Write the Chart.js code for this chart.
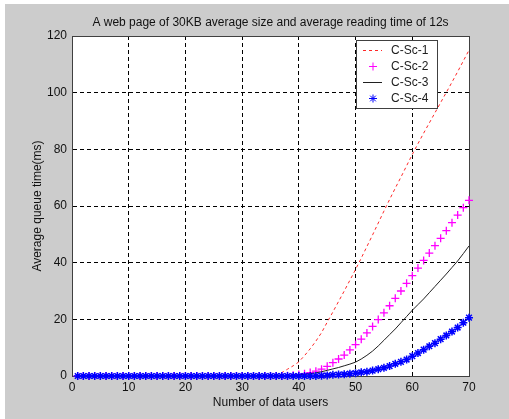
<!DOCTYPE html>
<html>
<head>
<meta charset="utf-8">
<script src="https://cdn.jsdelivr.net/npm/chart.js@4/dist/chart.umd.min.js"></script>
<style>
  html, body { margin: 0; padding: 0; background: #fff; }
  canvas { display: block; }
</style>
</head>
<body>
<canvas id="queueChart" width="509" height="419"></canvas>
<script>
// Number of data users (x axis)
const users = [1, 2, 3, 4, 5, 6, 7, 8, 9, 10, 11, 12, 13, 14, 15, 16, 17, 18, 19, 20,
  21, 22, 23, 24, 25, 26, 27, 28, 29, 30, 31, 32, 33, 34, 35, 36, 37, 38, 39, 40,
  41, 42, 43, 44, 45, 46, 47, 48, 49, 50, 51, 52, 53, 54, 55, 56, 57, 58, 59, 60,
  61, 62, 63, 64, 65, 66, 67, 68, 69, 70];

// Average queue time (ms) per scheme
const cSc1 = [0, 0, 0, 0, 0, 0, 0, 0, 0, 0, 0, 0, 0, 0, 0, 0, 0, 0, 0, 0,
  0, 0, 0, 0, 0, 0, 0, 0, 0, 0, 0, 0, 0, 0, 0, 0.3, 1.2, 2.4, 3.6, 5.0,
  7.2, 9.6, 12.3, 15.3, 19.0, 22.6, 26.3, 30.0, 33.8, 37.6, 41.6, 45.7, 49.8, 54.0, 58.2, 62.3, 66.3, 70.2, 74.2, 78.2,
  82.0, 85.7, 89.3, 92.9, 96.5, 100.1, 103.7, 107.4, 111.2, 115.0];
const cSc2 = [0, 0, 0, 0, 0, 0, 0, 0, 0, 0, 0, 0, 0, 0, 0, 0, 0, 0, 0, 0,
  0, 0, 0, 0, 0, 0, 0, 0, 0, 0, 0, 0, 0, 0, 0, 0, 0, 0.1, 0.3, 0.5,
  0.8, 1.2, 1.7, 2.4, 3.4, 4.7, 6.0, 7.4, 9.2, 11.1, 13.0, 15.2, 17.5, 19.9, 22.3, 24.8, 27.4, 30.0, 32.7, 35.4,
  38.1, 40.8, 43.4, 46.0, 48.6, 51.3, 54.1, 56.8, 59.4, 62.0];
const cSc3 = [0, 0, 0, 0, 0, 0, 0, 0, 0, 0, 0, 0, 0, 0, 0, 0, 0, 0, 0, 0,
  0, 0, 0, 0, 0, 0, 0, 0, 0, 0, 0, 0, 0, 0, 0, 0, 0, 0, 0.2, 0.4,
  0.6, 0.8, 1.1, 1.5, 2.0, 2.5, 3.0, 3.6, 4.2, 4.9, 6.0, 7.3, 8.8, 10.6, 12.6, 14.6, 16.6, 18.8, 21.0, 23.2,
  25.2, 27.2, 29.4, 31.6, 33.8, 36.0, 38.3, 40.6, 43.2, 45.9];
const cSc4 = [0, 0, 0, 0, 0, 0, 0, 0, 0, 0, 0, 0, 0, 0, 0, 0, 0, 0, 0, 0,
  0, 0, 0, 0, 0, 0, 0, 0, 0, 0, 0, 0, 0, 0, 0, 0, 0, 0, 0, 0,
  0, 0, 0, 0.1, 0.2, 0.4, 0.5, 0.6, 0.8, 1.0, 1.3, 1.5, 1.9, 2.4, 2.9, 3.5, 4.3, 5.0, 5.8, 7.0,
  8.1, 9.3, 10.5, 11.6, 13.0, 14.3, 15.7, 17.1, 18.8, 20.6];

const seriesNames = ['C-Sc-1', 'C-Sc-2', 'C-Sc-3', 'C-Sc-4'];
const xTicks = [0, 10, 20, 30, 40, 50, 60, 70];
const yTicks = [0, 20, 40, 60, 80, 100, 120];

const FONT = 'Arial, "Liberation Sans", sans-serif';

function pts(values) {
  return users.map((u, i) => ({ x: u, y: values[i] }));
}

// grey figure background, white axes area and the axes box
const figureBox = {
  id: 'figureBox',
  beforeDraw(chart) {
    const { ctx, chartArea: a } = chart;
    ctx.save();
    ctx.fillStyle = '#cccccc';
    ctx.fillRect(5, 4, chart.width - 5, chart.height - 4);
    ctx.fillStyle = '#ffffff';
    ctx.fillRect(a.left, a.top, a.right - a.left, a.bottom - a.top);
    ctx.restore();
  },
  beforeDatasetsDraw(chart) {
    const { ctx, chartArea: a } = chart;
    ctx.save();
    ctx.strokeStyle = '#404040';
    ctx.lineWidth = 1;
    ctx.strokeRect(a.left + 0.5, a.top + 0.5, a.right - a.left, a.bottom - a.top);
    ctx.restore();
  }
};

// boxed legend in the upper right corner of the axes
const boxLegend = {
  id: 'boxLegend',
  afterDraw(chart) {
    const { ctx, chartArea: a } = chart;
    const w = 81, h = 68;
    const left = a.right - 32 - w, top = a.top + 4;
    ctx.save();
    ctx.fillStyle = '#fff';
    ctx.fillRect(left, top, w, h);
    ctx.strokeStyle = '#404040';
    ctx.lineWidth = 1;
    ctx.strokeRect(left + 0.5, top + 0.5, w, h);
    ctx.font = '12px ' + FONT;
    ctx.textBaseline = 'middle';
    chart.data.datasets.forEach((ds, i) => {
      const y = top + 10.5 + i * 16;
      ctx.strokeStyle = ds.borderColor;
      if (ds.showLine !== false) {
        ctx.lineWidth = ds.borderWidth;
        ctx.setLineDash(ds.borderDash || []);
        ctx.beginPath();
        ctx.moveTo(left + 7, y);
        ctx.lineTo(left + 26, y);
        ctx.stroke();
        ctx.setLineDash([]);
      } else {
        Chart.helpers.drawPoint(ctx, {
          pointStyle: ds.pointStyle, radius: ds.pointRadius, rotation: 0, borderWidth: ds.pointBorderWidth
        }, left + 17, y);
      }
      ctx.fillStyle = '#202020';
      ctx.fillText(ds.label, left + 35, y);
    });
    ctx.restore();
  }
};

const ctx = document.getElementById('queueChart').getContext('2d');
new Chart(ctx, {
  type: 'scatter',
  data: {
    datasets: [
      {
        label: seriesNames[0], data: pts(cSc1), showLine: true, order: 3,
        borderColor: 'rgb(255,40,40)', borderWidth: 1, borderDash: [3, 3], pointRadius: 0
      },
      {
        label: seriesNames[1], data: pts(cSc2), showLine: false, order: 2,
        borderColor: '#ff00ff', backgroundColor: '#ff00ff',
        pointStyle: 'cross', pointRadius: 4, pointBorderWidth: 1.3
      },
      {
        label: seriesNames[2], data: pts(cSc3), showLine: true, order: 1,
        borderColor: '#202020', borderWidth: 1, pointRadius: 0
      },
      {
        label: seriesNames[3], data: pts(cSc4), showLine: false, order: 0,
        borderColor: '#0000ff', backgroundColor: '#0000ff',
        pointStyle: 'star', pointRadius: 4, pointBorderWidth: 1.5
      }
    ]
  },
  options: {
    responsive: false,
    animation: false,
    clip: false,
    layout: { padding: { left: 0, top: 0, right: 40, bottom: 0 } },
    plugins: {
      legend: { display: false },
      tooltip: { enabled: false },
      title: {
        display: true,
        fullSize: false,
        text: 'A web page of 30KB average size and average reading time of 12s',
        color: '#111',
        font: { family: FONT, size: 12, weight: 'normal', lineHeight: 1.2 },
        padding: { top: 15, bottom: 6.6 }
      }
    },
    scales: {
      x: {
        type: 'linear', min: 0, max: 70,
        afterBuildTicks: s => { s.ticks = xTicks.map(v => ({ value: v })); },
        afterFit: s => { s.height = 43; },
        ticks: { color: '#111', padding: 4, font: { family: FONT, size: 12 } },
        grid: { color: '#000', lineWidth: 1, drawTicks: false },
        border: { display: true, color: '#404040', width: 1, dash: [4, 3] },
        title: {
          display: true, text: 'Number of data users', color: '#111',
          font: { family: FONT, size: 12, lineHeight: 1.2 }, padding: { top: 0, bottom: 9.1 }
        }
      },
      y: {
        type: 'linear', min: 0, max: 120,
        afterBuildTicks: s => { s.ticks = yTicks.map(v => ({ value: v })); },
        afterFit: s => { s.width = 72; },
        ticks: { color: '#111', padding: 5, font: { family: FONT, size: 12 } },
        grid: { color: '#000', lineWidth: 1, drawTicks: false },
        border: { display: true, color: '#404040', width: 1, dash: [4, 3] },
        title: {
          display: true, text: 'Average queue time(ms)', color: '#111',
          font: { family: FONT, size: 12, lineHeight: 1.2 }, padding: { top: 30.8, bottom: 0 }
        }
      }
    }
  },
  plugins: [figureBox, boxLegend]
});
</script>
</body>
</html>
